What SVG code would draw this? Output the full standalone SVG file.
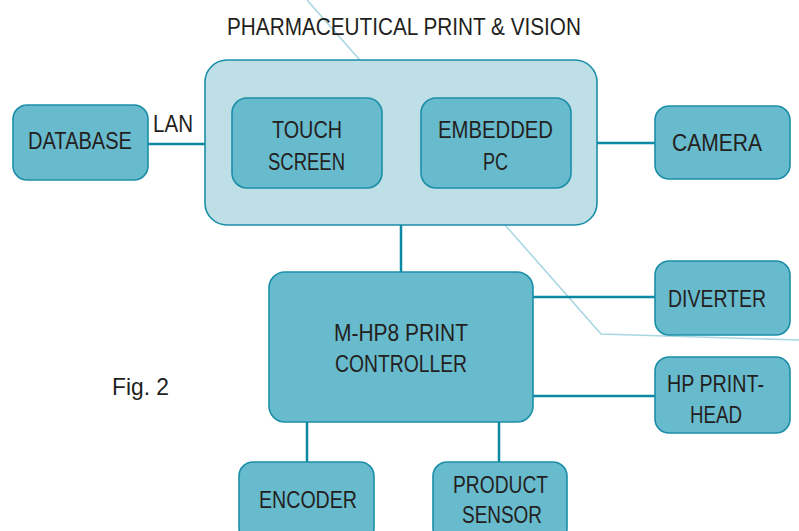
<svg xmlns="http://www.w3.org/2000/svg" width="799" height="531" viewBox="0 0 799 531">
<style>
.n{fill:#68bacd;stroke:#1b8ea8;stroke-width:1.6}
.c{fill:#bedfe6;stroke:#1b8ea8;stroke-width:1.6}
.w{stroke:#0b88a2;stroke-width:2.5;fill:none}
.t{font-family:"Liberation Sans",Arial,sans-serif;font-size:24px;fill:#231f20;text-anchor:middle}
</style>
<rect width="799" height="531" fill="#ffffff"/>
<polyline id="guide" points="307,0 601,334 799,340" fill="none" stroke="#a9d6e1" stroke-width="1.6"/>
<g id="connectors">
<line class="w" x1="148" y1="144" x2="205" y2="144"/>
<line class="w" x1="597" y1="143" x2="655" y2="143"/>
<line class="w" x1="401" y1="225" x2="401" y2="272"/>
<line class="w" x1="533" y1="297" x2="655" y2="297"/>
<line class="w" x1="533" y1="396" x2="655" y2="396"/>
<line class="w" x1="307" y1="422" x2="307" y2="462"/>
<line class="w" x1="499" y1="422" x2="499" y2="462"/>
<text class="t" x="173" y="132" textLength="40" lengthAdjust="spacingAndGlyphs">LAN</text>
</g>
<text id="title" class="t" x="404" y="35" textLength="354" lengthAdjust="spacingAndGlyphs">PHARMACEUTICAL PRINT &amp; VISION</text>
<g id="vision">
<rect class="c" x="205" y="60" width="392" height="165" rx="22"/>
</g>
<g id="touch">
<rect class="n" x="232" y="98" width="150" height="90" rx="15"/>
<text class="t" x="307" y="138" textLength="70" lengthAdjust="spacingAndGlyphs">TOUCH</text>
<text class="t" x="306.5" y="170" textLength="77" lengthAdjust="spacingAndGlyphs">SCREEN</text>
</g>
<g id="pc">
<rect class="n" x="421" y="98" width="150" height="90" rx="15"/>
<text class="t" x="495.5" y="138" textLength="115" lengthAdjust="spacingAndGlyphs">EMBEDDED</text>
<text class="t" x="495.5" y="170" textLength="25" lengthAdjust="spacingAndGlyphs">PC</text>
</g>
<g id="database">
<rect class="n" x="13" y="105" width="135" height="75" rx="14"/>
<text class="t" x="80" y="149" textLength="104" lengthAdjust="spacingAndGlyphs">DATABASE</text>
</g>
<g id="camera">
<rect class="n" x="655" y="106" width="135" height="73" rx="14"/>
<text class="t" x="717" y="151" textLength="90" lengthAdjust="spacingAndGlyphs">CAMERA</text>
</g>
<g id="diverter">
<rect class="n" x="655" y="261" width="135" height="74" rx="14"/>
<text class="t" x="717" y="307" textLength="98" lengthAdjust="spacingAndGlyphs">DIVERTER</text>
</g>
<g id="printhead">
<rect class="n" x="655" y="357" width="135" height="76" rx="14"/>
<text class="t" x="715.5" y="392" textLength="97" lengthAdjust="spacingAndGlyphs">HP PRINT-</text>
<text class="t" x="716" y="423" textLength="52" lengthAdjust="spacingAndGlyphs">HEAD</text>
</g>
<g id="controller">
<rect class="n" x="269" y="272" width="264" height="150" rx="16"/>
<text class="t" x="401" y="341" textLength="134" lengthAdjust="spacingAndGlyphs">M-HP8 PRINT</text>
<text class="t" x="401" y="372" textLength="132" lengthAdjust="spacingAndGlyphs">CONTROLLER</text>
</g>
<g id="encoder">
<rect class="n" x="239" y="462" width="135" height="80" rx="14"/>
<text class="t" x="308" y="508" textLength="98" lengthAdjust="spacingAndGlyphs">ENCODER</text>
</g>
<g id="sensor">
<rect class="n" x="433" y="462" width="134" height="80" rx="14"/>
<text class="t" x="500.5" y="493" textLength="95" lengthAdjust="spacingAndGlyphs">PRODUCT</text>
<text class="t" x="502" y="523" textLength="80" lengthAdjust="spacingAndGlyphs">SENSOR</text>
</g>
<text id="fig" class="t" x="140.5" y="395" font-size="28" textLength="57" lengthAdjust="spacingAndGlyphs">Fig. 2</text>
</svg>
